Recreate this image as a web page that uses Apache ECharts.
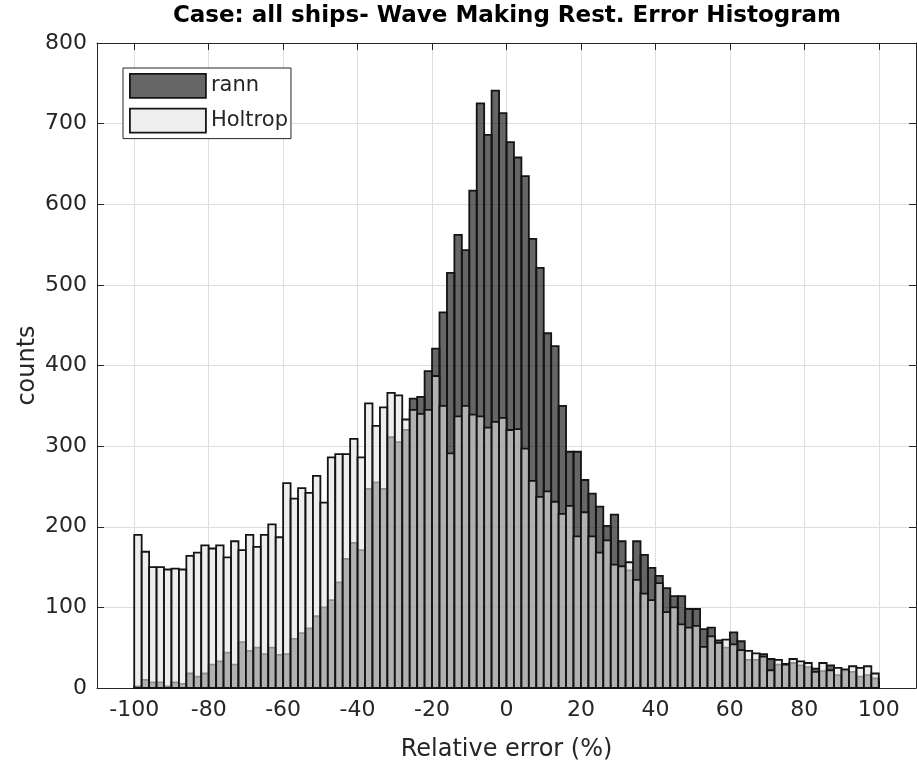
<!DOCTYPE html>
<html><head><meta charset="utf-8">
<script src="https://cdn.jsdelivr.net/npm/echarts@6/dist/echarts.min.js"></script>
<style>html,body{margin:0;padding:0;background:#fff}#c{width:917px;height:773px}</style>
</head><body><div id="c"></div>
<script>
// Histogram bins: width 2, from -100 to 100
var binStart = -100;
var binWidth = 2;
var rann = [2,10,7,7,2,7,5,18,14,18, 29,33,44,29,57,46,50,42,50,41,
  42,61,68,74,89,100,109,131,160,180, 171,247,255,247,311,305,320,359,361,393,
  421,466,515,562,543,617,725,686,741,713, 677,658,635,557,521,440,424,350,293,293,
  258,241,225,201,215,182,146,182,165,149, 139,124,114,114,98,98,73,75,59,50,
  69,58,35,35,42,36,29,30,31,28, 26,24,21,28,16,22,20,14,16,12];
var holtrop = [190,169,150,150,147,148,147,164,168,177, 173,177,162,182,171,190,175,190,203,187,
  254,235,248,242,263,230,286,290,290,309, 286,353,325,348,366,363,333,345,340,345,
  387,350,291,337,350,339,337,323,330,335, 320,321,297,257,237,244,231,216,226,188,
  218,188,168,183,153,151,156,134,117,109, 130,94,100,79,75,77,51,64,56,60,
  54,47,46,43,39,22,35,29,36,33, 31,20,31,22,25,23,27,25,27,18];
var xTickValues = [-100,-80,-60,-40,-20,0,20,40,60,80,100];
var seriesNames = ['rann','Holtrop'];
var titleText = 'Case: all ships- Wave Making Rest. Error Histogram';
var xLabel = 'Relative error (%)';
var yLabel = 'counts';

function toBins(vals){
  return vals.map(function(v,i){ return [binStart + i*binWidth, binStart + (i+1)*binWidth, v]; });
}
var fills = ['rgba(0,0,0,0.6)','rgba(227,227,227,0.6)'];
function makeRender(fill){
  return function(params, api){
    var p0 = api.coord([api.value(0), 0]);
    var p1 = api.coord([api.value(1), api.value(2)]);
    return {type:'rect', shape:{x:p0[0], y:p1[1], width:p1[0]-p0[0], height:p0[1]-p1[1]},
      style:{fill:fill, stroke:'#141414', lineWidth:1.8}};
  };
}
var axisColor = '#262626';
var font = 'DejaVu Sans, sans-serif';
var chart = echarts.init(document.getElementById('c'), null, {renderer:'canvas'});
chart.setOption({
  animation:false,
  backgroundColor:'#fff',
  textStyle:{fontFamily:font},
  graphic:[{type:'text', x:507, y:16, style:{text:titleText, fontFamily:font, fontWeight:'bold', fontSize:23, fill:'#000', textAlign:'center', textVerticalAlign:'middle'}}],
  grid:{left:97, right:1, top:43, bottom:85},
  legend:{
    orient:'vertical', left:123, top:68, itemWidth:76, itemHeight:24, itemGap:9,
    padding:[5,3,5,6], backgroundColor:'#fff', borderColor:axisColor, borderWidth:1, borderRadius:0,
    icon:'rect',
    textStyle:{fontSize:21, color:axisColor, fontFamily:font},
    data:[
      {name:'rann', itemStyle:{color:'#666666', borderColor:'#141414', borderWidth:1.8}},
      {name:'Holtrop', itemStyle:{color:'#eeeeee', borderColor:'#141414', borderWidth:1.8}}
    ]
  },
  xAxis:[{
    type:'value', min:-110, max:110, position:'bottom',
    name:xLabel, nameLocation:'middle', nameGap:50, nameMoveOverlap:false,
    nameTextStyle:{fontSize:24, color:axisColor, fontFamily:font},
    axisLine:{show:true, onZero:false, lineStyle:{color:axisColor, width:1}},
    axisTick:{show:true, inside:true, length:7, customValues:xTickValues, lineStyle:{color:axisColor}},
    axisLabel:{customValues:xTickValues, fontSize:22, color:axisColor, margin:11, fontFamily:font},
    splitLine:{show:true, lineStyle:{color:'#dedede', width:1}}
  },{
    type:'value', min:-110, max:110, position:'top',
    axisLine:{show:true, onZero:false, lineStyle:{color:axisColor, width:1}},
    axisTick:{show:true, inside:true, length:7, customValues:xTickValues, lineStyle:{color:axisColor}},
    axisLabel:{show:false}, splitLine:{show:false}
  }],
  yAxis:[{
    type:'value', min:0, max:800, interval:100, position:'left',
    name:yLabel, nameLocation:'middle', nameGap:57, nameMoveOverlap:false,
    nameTextStyle:{fontSize:24, color:axisColor, fontFamily:font},
    axisLine:{show:true, onZero:false, lineStyle:{color:axisColor, width:1}},
    axisTick:{show:true, inside:true, length:7, lineStyle:{color:axisColor}},
    axisLabel:{fontSize:22, color:axisColor, margin:10, fontFamily:font},
    splitLine:{show:true, lineStyle:{color:'#dedede', width:1}}
  },{
    type:'value', min:0, max:800, interval:100, position:'right',
    axisLine:{show:true, onZero:false, lineStyle:{color:axisColor, width:1}},
    axisTick:{show:true, inside:true, length:7, lineStyle:{color:axisColor}},
    axisLabel:{show:false}, splitLine:{show:false}
  }],
  series:[
    {name:seriesNames[0], type:'custom', renderItem:makeRender(fills[0]), data:toBins(rann),
     encode:{x:[0,1], y:2}, itemStyle:{color:'#666666'}, z:2},
    {name:seriesNames[1], type:'custom', renderItem:makeRender(fills[1]), data:toBins(holtrop),
     encode:{x:[0,1], y:2}, itemStyle:{color:'#eeeeee'}, z:3}
  ]
});
</script></body></html>
